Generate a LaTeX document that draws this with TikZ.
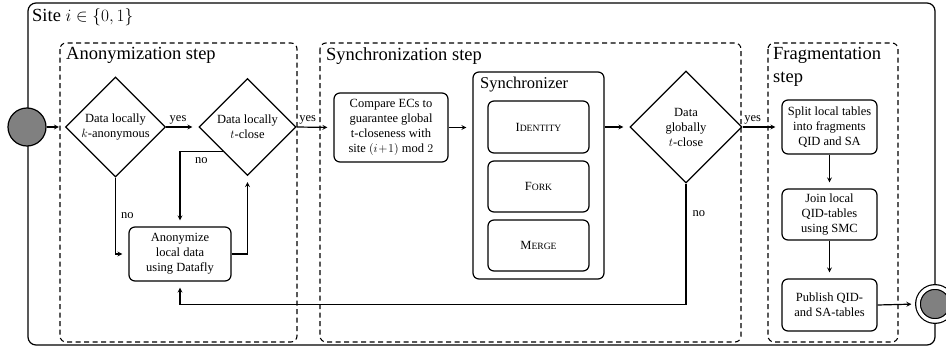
\documentclass[tikz,border=0pt]{standalone}
\usepackage{fontspec}
\setmainfont{Liberation Serif}
\usetikzlibrary{shapes.geometric}

\newcommand{\fsmall}{\fontsize{12.5}{15}\selectfont}
\newcommand{\fbig}{\fontsize{18.5}{23}\selectfont}
\newcommand{\fmid}{\fontsize{16.5}{20}\selectfont}
\newcommand{\fakesc}[2]{{\fontsize{12.5}{15}\selectfont #1}{\fontsize{9.6}{15}\selectfont #2}}

\tikzset{
    decision/.style={draw, line width=1.2pt, diamond, aspect=1, inner sep=0pt, align=center, font=\fsmall},
    process/.style={draw, line width=1.2pt, rounded corners=6pt, align=center, font=\fsmall},
    stepbox/.style={draw, line width=1.1pt, dash pattern=on 5pt off 3.5pt, rounded corners=6pt},
    steptitle/.style={anchor=north west, inner sep=0pt, align=left, font=\fbig},
    arr/.style={->, >=stealth, line width=1.2pt, shorten >=6pt},
    lbl/.style={font=\fsmall, inner sep=2pt}
}

\begin{document}
\begin{tikzpicture}[x=1pt, y=-1pt]
        \useasboundingbox (0,0) rectangle (946,348);

        % Riquadro del sito
        \draw[line width=1.2pt, rounded corners=8pt] (28,3) rectangle (935,345);
        \node[steptitle] (site) at (32,8) {Site $i\in\{0,1\}$};

        % Riquadri tratteggiati delle fasi
        \draw[stepbox] (60,43) rectangle (297,342);
        \node[steptitle] (anontitle) at (66,47) {Anonymization step};
        \draw[stepbox] (320,43) rectangle (741,342);
        \node[steptitle] (synctitle) at (326,47) {Synchronization step};
        \draw[stepbox] (768,43) rectangle (898,342);
        \node[steptitle] (fragtitle) at (773,47) {Fragmentation\\step};

        % Stati iniziale e finale
        \node[circle, draw, fill=gray, line width=1.2pt, minimum size=38pt] (start) at (27,127) {};
        \node[circle, draw, fill=gray, double, double distance=3.5pt, line width=1.2pt, minimum size=34pt] (stop) at (935,304) {};

        % Fase di anonimizzazione
        \node[decision, minimum size=100pt] (kanon) at (115.5,127) {Data locally\\$k$-anonymous};
        \node[decision, minimum size=97pt] (tclose) at (247.5,127) {Data locally\\$t$-close};
        \node[process, minimum width=102pt, minimum height=54pt] (anon) at (180,254) {Anonymize\\local data\\using Datafly};

        % Fase di sincronizzazione
        \node[process, minimum width=114pt, minimum height=69pt] (compare) at (391,127.5) {Compare ECs to\\guarantee global\\t-closeness with\\site $(i\!+\!1)\bmod 2$};
        \node[process, minimum width=131pt, minimum height=207pt] (sync) at (538.5,175.5) {};
        \node[anchor=north west, inner sep=0pt, font=\fmid] (synclabel) at (480,77) {Synchronizer};
        \node[process, minimum width=101pt, minimum height=52pt] (identity) at (538.5,127) {\fakesc{I}{DENTITY}};
        \node[process, minimum width=101pt, minimum height=51pt] (fork) at (538.5,186.5) {\fakesc{F}{ORK}};
        \node[process, minimum width=101pt, minimum height=51pt] (merge) at (538.5,245.5) {\fakesc{M}{ERGE}};
        \node[decision, minimum size=112pt] (global) at (686,127) {Data\\globally\\$t$-close};

        % Fase di frammentazione
        \node[process, minimum width=95pt, minimum height=54pt] (split) at (829.5,127) {Split local tables\\into fragments\\QID and SA};
        \node[process, minimum width=95pt, minimum height=51pt] (join) at (829.5,214.5) {Join local\\QID-tables\\using SMC};
        \node[process, minimum width=95pt, minimum height=52pt] (publish) at (829.5,305) {Publish QID-\\and SA-tables};

        % Frecce
        \draw[arr] (start.east) -- (kanon.west);
        \draw[arr] (kanon.east) -- (tclose.west) node[lbl, pos=0.37, above] {yes};
        \draw[arr] (kanon.south) |- (anon.west) node[lbl, pos=0.25, right=3pt] {no};
        \draw[arr] (tclose.south west) -| (anon.north) node[lbl, pos=0.25, below=3pt] {no};
        \draw[arr] (anon.east) -| (tclose.south);
        \draw[arr] (tclose.east) -- (compare.west) node[lbl, pos=0.3, above] {yes};
        \draw[arr] (compare.east) -- (compare.east -| sync.west);
        \draw[arr] (global.west -| sync.east) -- (global.west);
        \draw[arr] (global.east) -- (split.west) node[lbl, pos=0.26, above] {yes};
        \draw[arr] (global.south) -- ++(0,121) node[lbl, pos=0.25, right=4pt] {no} -| (anon.south);
        \draw[arr] (split.south) -- (join.north);
        \draw[arr] (join.south) -- (publish.north);
        \draw[arr] (publish.east) -- (stop.west);
    \end{tikzpicture}
\end{document}
